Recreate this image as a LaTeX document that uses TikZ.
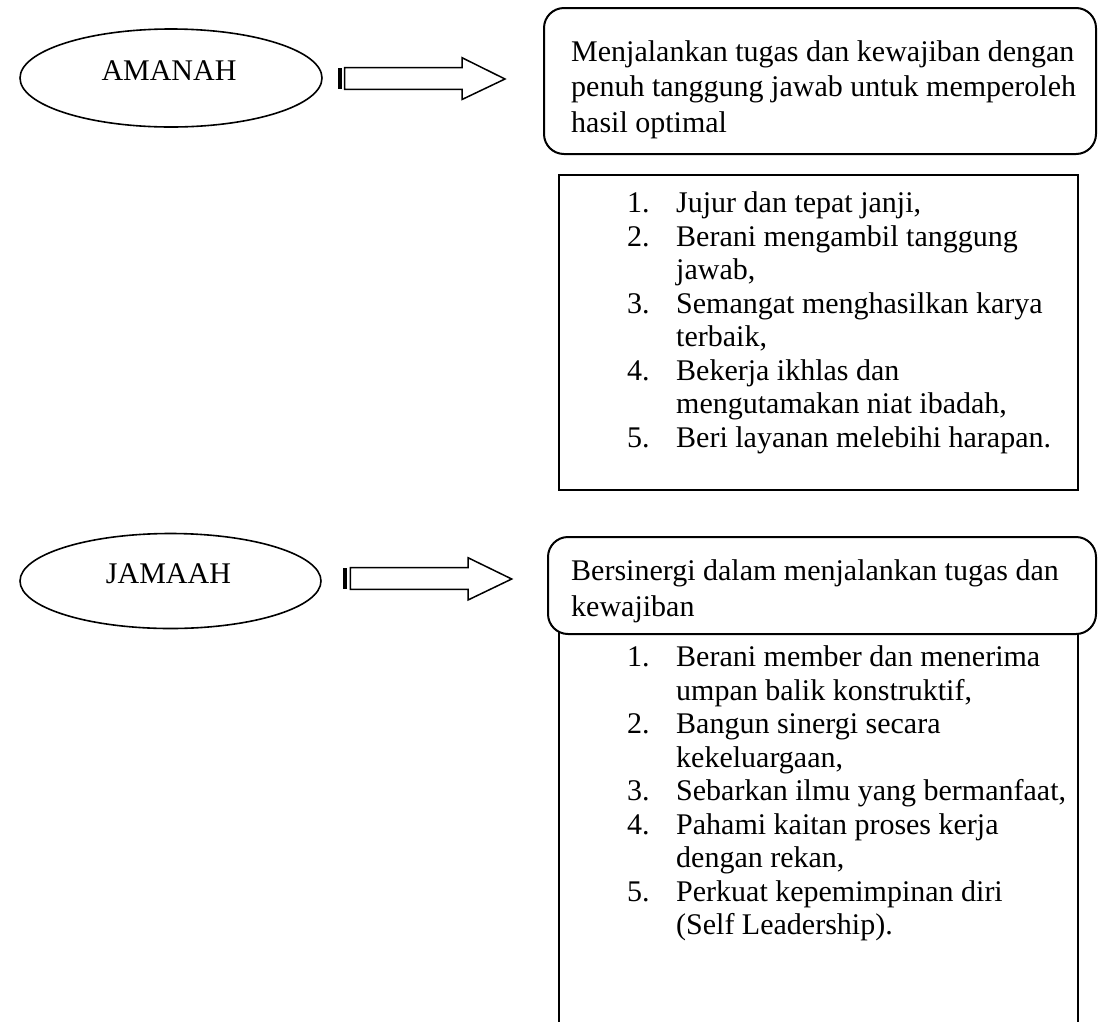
\documentclass[tikz,border=0pt]{standalone}
\usepackage{fontspec}
\setmainfont{Liberation Serif}
\usetikzlibrary{shapes.geometric}
\begin{document}
\begin{tikzpicture}[x=1pt,y=-1pt,
  every node/.style={font=\fontsize{30}{34.5}\selectfont},
  oval/.style={ellipse,draw,line width=1.6pt,minimum width=302pt,minimum height=98pt,inner sep=0pt},
  rbox/.style={draw,line width=2pt,rounded corners=20pt,fill=white,inner sep=0pt,outer sep=0pt,anchor=north west},
  sbox/.style={draw,line width=2pt,inner sep=0pt,outer sep=0pt,anchor=north west},
  txt/.style={inner sep=0pt,align=left,anchor=north west},
  deftxt/.style={txt,font=\fontsize{30}{35.5}\selectfont},
  listtxt/.style={txt,font=\fontsize{30}{33.5}\selectfont},
  fatarrow/.style={draw,line width=1.5pt,fill=white,line join=miter},
  stripe/.style={fill=black}
]
\useasboundingbox (0,0) rectangle (1098,1021);

% ---------- AMANAH ----------
\node[oval] (amanah) at (171,78) {};
\node[inner sep=0pt] (amanahtxt) at (169,71) {AMANAH};

\fill[stripe] (337.5,67.7) rectangle (341.5,89.3);
\draw[fatarrow] (344.5,67.7) -- (462,67.7) -- (462,57.7) -- (505,79) -- (462,99.5) -- (462,89.3) -- (344.5,89.3) -- cycle;

\node[rbox,minimum width=552pt,minimum height=146pt] (def1) at (544,8) {};
\node[deftxt] (def1txt) at (571,40)
 {Menjalankan tugas dan kewajiban dengan\\
  penuh tanggung jawab untuk memperoleh\\
  hasil optimal};

\node[sbox,minimum width=519pt,minimum height=315pt] (list1) at (559,175) {};
\node[listtxt] (list1txt) at (627,191.5)
 {\makebox[49pt][l]{1.}Jujur dan tepat janji,\\
  \makebox[49pt][l]{2.}Berani mengambil tanggung\\
  \hspace*{49pt}jawab,\\
  \makebox[49pt][l]{3.}Semangat menghasilkan karya\\
  \hspace*{49pt}terbaik,\\
  \makebox[49pt][l]{4.}Bekerja ikhlas dan\\
  \hspace*{49pt}mengutamakan niat ibadah,\\
  \makebox[49pt][l]{5.}Beri layanan melebihi harapan.};

% ---------- JAMAAH ----------
\node[oval,minimum height=95pt,minimum width=301pt] (jamaah) at (170.5,581) {};
\node[inner sep=0pt] (jamaahtxt) at (168.5,574) {JAMAAH};

\fill[stripe] (343.3,567.7) rectangle (347.3,589.3);
\draw[fatarrow] (350.3,567.7) -- (468,567.7) -- (468,557.7) -- (511.7,579) -- (468,600) -- (468,589.3) -- (350.3,589.3) -- cycle;

\coordinate (l2a) at (559,1030);
\coordinate (l2b) at (559,620);
\coordinate (l2c) at (1078,620);
\coordinate (l2d) at (1078,1030);
\draw[line width=2pt] (l2a) -- (l2b) -- (l2c) -- (l2d);

\node[rbox,minimum width=548pt,minimum height=97pt] (def2) at (548,537) {};
\node[deftxt] (def2txt) at (571,559.5)
 {Bersinergi dalam menjalankan tugas dan\\
  kewajiban};

\node[listtxt] (list2txt) at (627,645.5)
 {\makebox[49pt][l]{1.}Berani member dan menerima\\
  \hspace*{49pt}umpan balik konstruktif,\\
  \makebox[49pt][l]{2.}Bangun sinergi secara\\
  \hspace*{49pt}kekeluargaan,\\
  \makebox[49pt][l]{3.}Sebarkan ilmu yang bermanfaat,\\
  \makebox[49pt][l]{4.}Pahami kaitan proses kerja\\
  \hspace*{49pt}dengan rekan,\\
  \makebox[49pt][l]{5.}Perkuat kepemimpinan diri\\
  \hspace*{49pt}(Self Leadership).};
\end{tikzpicture}
\end{document}
